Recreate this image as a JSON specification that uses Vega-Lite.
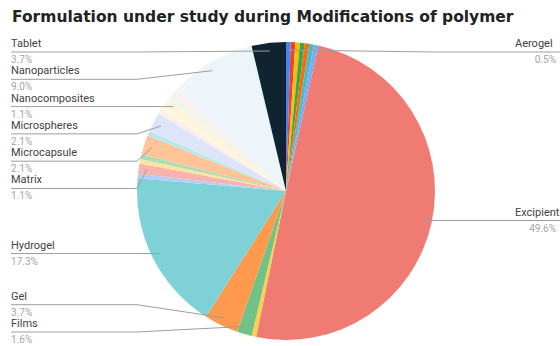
{
  "$schema": "https://vega.github.io/schema/vega-lite/v6.json",
  "width": 572,
  "height": 310,
  "autosize": {"type": "none"},
  "padding": {"left": 0, "top": 36, "right": 0, "bottom": 0},
  "background": "white",
  "view": {"stroke": null},
  "title": {
    "text": "Formulation under study during Modifications of polymer",
    "anchor": "start",
    "frame": "group",
    "dx": 12,
    "dy": 17,
    "offset": 16,
    "baseline": "alphabetic",
    "font": "DejaVu Sans",
    "fontSize": 15.5,
    "fontWeight": "bold",
    "color": "#222222"
  },
  "data": {
    "values": [
      {"formulation": "Aerogel", "share": 0.5},
      {"formulation": null, "share": 0.5},
      {"formulation": null, "share": 0.5},
      {"formulation": null, "share": 0.5},
      {"formulation": null, "share": 0.5},
      {"formulation": null, "share": 0.5},
      {"formulation": null, "share": 0.5},
      {"formulation": "Excipient", "share": 49.6},
      {"formulation": null, "share": 0.5},
      {"formulation": "Films", "share": 1.6},
      {"formulation": "Gel", "share": 3.7},
      {"formulation": "Hydrogel", "share": 17.3},
      {"formulation": null, "share": 0.5},
      {"formulation": "Matrix", "share": 1.1},
      {"formulation": null, "share": 0.5},
      {"formulation": null, "share": 0.5},
      {"formulation": "Microcapsule", "share": 2.1},
      {"formulation": null, "share": 0.5},
      {"formulation": "Microspheres", "share": 2.1},
      {"formulation": null, "share": 0.5},
      {"formulation": null, "share": 0.5},
      {"formulation": "Nanocomposites", "share": 1.1},
      {"formulation": null, "share": 0.5},
      {"formulation": null, "share": 0.5},
      {"formulation": "Nanoparticles", "share": 9.0},
      {"formulation": null, "share": 0.5},
      {"formulation": "Tablet", "share": 3.7}
    ]
  },
  "transform": [
    {"window": [{"op": "row_number", "as": "idx"}]},
    {"joinaggregate": [{"op": "sum", "field": "share", "as": "total"}]},
    {"window": [{"op": "sum", "field": "share", "as": "cum"}], "sort": [{"field": "idx"}], "frame": [null, 0]},
    {"calculate": "2 * PI * (datum.cum - datum.share / 2) / datum.total", "as": "mid"}
  ],
  "layer": [
    {
      "mark": {"type": "arc", "outerRadius": 149},
      "encoding": {
        "theta": {"field": "share", "type": "quantitative", "stack": true},
        "order": {"field": "idx", "type": "quantitative"},
        "color": {
          "field": "idx",
          "type": "ordinal",
          "legend": null,
          "scale": {
            "range": [
              "#4285F4", "#EA4335", "#FBBC04", "#34A853", "#FF6D01", "#46BDC6", "#7BAAF7",
              "#F07B72", "#FCD04F", "#71C287", "#FF994D", "#7ED1D7", "#B3CEFB", "#F7B4AE",
              "#FDE49B", "#AEDCBA", "#FFC599", "#B5E8EB", "#DCE6F8", "#FDECEB", "#FFF7E1",
              "#FEF3DD", "#EBF6EE", "#FFF0E6", "#EDF4FA", "#E6F6F7", "#0F2430"
            ]
          }
        }
      }
    },
    {
      "transform": [
        {"filter": "datum.formulation != null"},
        {"calculate": "sin(datum.mid) < 0 ? 'left' : 'right'", "as": "side"},
        {"calculate": "sin(datum.mid) * 0.946", "as": "ax"},
        {"calculate": "-cos(datum.mid) * 0.946", "as": "ay"},
        {"joinaggregate": [{"op": "count", "as": "n"}], "groupby": ["side"]},
        {"window": [{"op": "row_number", "as": "k"}], "groupby": ["side"], "sort": [{"field": "ay"}]},
        {"calculate": "datum.ay - datum.k * 0.1832", "as": "v"},
        {"window": [{"op": "max", "field": "v", "as": "vmax"}], "groupby": ["side"], "sort": [{"field": "ay"}], "frame": [null, 0]},
        {"calculate": "datum.k * 0.1832 + max(datum.vmax, -0.9329 - 0.1832)", "as": "y1"},
        {"calculate": "datum.y1 - datum.k * 0.1832", "as": "w"},
        {"window": [{"op": "min", "field": "w", "as": "wmin"}], "groupby": ["side"], "sort": [{"field": "ay"}], "frame": [0, null]},
        {"calculate": "datum.k * 0.1832 + min(datum.wmin, 0.9463 - datum.n * 0.1832)", "as": "ly"},
        {"calculate": "datum.side == 'left' ? -1.8456 : 1.9195", "as": "lineEnd"},
        {"calculate": "datum.side == 'left' ? -1.0 : 1.0", "as": "elbow"},
        {"calculate": "datum.side == 'left' ? -1.8456 : 1.5369", "as": "nameX"},
        {"calculate": "datum.side == 'left' ? -1.8456 : 1.812", "as": "pctX"},
        {"calculate": "format(datum.share, '.1f') + '%'", "as": "pct"}
      ],
      "layer": [
        {
          "mark": {"type": "rule", "color": "#9e9e9e", "strokeWidth": 1},
          "encoding": {
            "x": {"field": "lineEnd", "type": "quantitative", "scale": {"domain": [-1.9195, 1.9195], "nice": false, "zero": false}, "axis": null},
            "x2": {"field": "elbow"},
            "y": {"field": "ly", "type": "quantitative", "scale": {"domain": [-1.0403, 1.0403], "reverse": true, "nice": false, "zero": false}, "axis": null}
          }
        },
        {
          "mark": {"type": "rule", "color": "#9e9e9e", "strokeWidth": 1},
          "encoding": {
            "x": {"field": "elbow", "type": "quantitative"},
            "x2": {"field": "ax"},
            "y": {"field": "ly", "type": "quantitative"},
            "y2": {"field": "ay"}
          }
        },
        {
          "mark": {"type": "text", "align": "left", "baseline": "middle", "dy": -8, "font": "Roboto", "fontSize": 11, "color": "#424242"},
          "encoding": {
            "x": {"field": "nameX", "type": "quantitative"},
            "y": {"field": "ly", "type": "quantitative"},
            "text": {"field": "formulation"}
          }
        },
        {
          "transform": [{"filter": "datum.side == 'left'"}],
          "mark": {"type": "text", "align": "left", "baseline": "middle", "dy": 8, "font": "Roboto", "fontSize": 10, "color": "#a6a6a6"},
          "encoding": {
            "x": {"field": "pctX", "type": "quantitative"},
            "y": {"field": "ly", "type": "quantitative"},
            "text": {"field": "pct"}
          }
        },
        {
          "transform": [{"filter": "datum.side == 'right'"}],
          "mark": {"type": "text", "align": "right", "baseline": "middle", "dy": 8, "font": "Roboto", "fontSize": 10, "color": "#a6a6a6"},
          "encoding": {
            "x": {"field": "pctX", "type": "quantitative"},
            "y": {"field": "ly", "type": "quantitative"},
            "text": {"field": "pct"}
          }
        }
      ]
    }
  ]
}
